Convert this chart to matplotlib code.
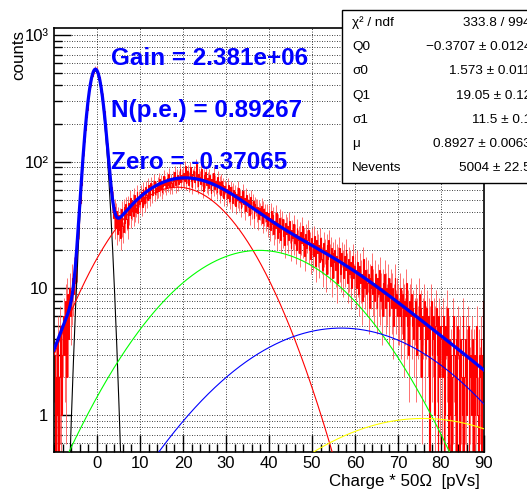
import math
import numpy as np
import matplotlib
matplotlib.use("Agg")
import matplotlib.pyplot as plt
from matplotlib.ticker import FixedLocator, LogLocator, MultipleLocator, NullFormatter
from matplotlib.patches import Rectangle

plt.rcParams['font.family'] = ['Liberation Sans', 'DejaVu Sans']

# histogram contents, 0.2 wide bins, one list per 10 units of charge
cnt_m10 = [3, 0, 2, 1, 4, 0, 2, 5, 1, 3, 4, 6, 3, 8, 2, 9, 4, 7, 10, 6, 8, 12, 9, 14, 11,
           18, 15, 27, 30, 45, 47, 66, 79, 104, 121, 156, 178, 226, 255, 311, 334, 389, 408, 462, 476,
           511, 515, 548, 530, 541]
cnt_0 = [521, 478, 470, 418, 402, 349, 330, 265, 251, 199, 181, 139, 128, 95, 88, 66, 63, 47, 51, 36,
         44, 30, 41, 27, 38, 29, 37, 25, 42, 31, 28, 44, 33, 46, 35, 30, 47, 38, 52, 36,
         41, 49, 37, 55, 40, 43, 58, 39, 51, 46]
cnt_10 = [49, 58, 44, 61, 53, 47, 63, 55, 50, 66, 57, 52, 68, 60, 55, 64, 71, 56, 62, 58,
          67, 59, 73, 61, 70, 58, 64, 77, 66, 69, 62, 74, 66, 80, 63, 71, 68, 63, 76, 70,
          83, 65, 72, 79, 67, 75, 88, 69, 78, 73]
cnt_20 = [81, 70, 92, 68, 77, 85, 66, 74, 90, 71, 63, 79, 84, 69, 75, 95, 72, 64, 80, 76,
          67, 88, 73, 59, 78, 70, 83, 65, 74, 62, 79, 68, 57, 73, 66, 82, 61, 70, 64, 58,
          75, 63, 69, 55, 71, 60, 66, 52, 64, 58]
cnt_30 = [61, 52, 66, 55, 49, 63, 57, 47, 60, 53, 58, 45, 56, 50, 62, 48, 54, 43, 51, 59,
          46, 52, 41, 55, 47, 44, 50, 38, 53, 45, 42, 49, 36, 46, 44, 40, 44, 35, 43, 41,
          38, 45, 33, 42, 37, 40, 34, 40, 31, 39]
cnt_40 = [36, 29, 41, 32, 38, 27, 34, 30, 39, 25, 33, 28, 36, 24, 31, 35, 26, 30, 22, 33,
          27, 31, 24, 34, 28, 21, 29, 25, 32, 23, 27, 20, 30, 24, 26, 19, 28, 23, 31, 22,
          25, 18, 27, 21, 24, 29, 20, 23, 17, 25]
cnt_50 = [23, 18, 26, 20, 15, 24, 19, 22, 16, 25, 21, 17, 14, 23, 19, 20, 13, 22, 17, 24,
          18, 15, 21, 12, 19, 16, 20, 14, 18, 11, 17, 21, 15, 13, 19, 16, 12, 18, 14, 20,
          15, 11, 17, 13, 16, 10, 14, 18, 12, 15]
cnt_60 = [14, 10, 16, 12, 9, 15, 11, 13, 8, 17, 12, 10, 14, 9, 11, 13, 7, 12, 10, 15,
          9, 11, 8, 13, 10, 7, 12, 9, 14, 8, 10, 6, 11, 9, 13, 7, 10, 8, 12, 6,
          9, 11, 7, 10, 5, 8, 12, 7, 9, 6]
cnt_70 = [8, 6, 10, 5, 7, 9, 4, 8, 6, 11, 5, 7, 3, 8, 6, 9, 5, 7, 4, 6,
          8, 3, 6, 5, 9, 4, 7, 2, 6, 5, 8, 3, 5, 7, 4, 6, 0, 5, 8, 3,
          4, 6, 1, 5, 7, 3, 0, 6, 2, 5]
cnt_80 = [4, 2, 6, 0, 1, 5, 3, 7, 0, 4, 1, 3, 0, 2, 6, 3, 1, 4, 0, 5,
          3, 0, 4, 2, 1, 6, 0, 2, 4, 1, 3, 5, 0, 2, 3, 1, 4, 0, 3, 1,
          2, 5, 1, 0, 3, 2, 4, 0, 3, 8]

# fit results (stats box)
q0, s0 = -0.3707, 1.573
q1, s1 = 19.05, 11.5
mu = 0.8927
nevents = 5004
stat_names = ["χ² / ndf", "Q0", "σ0", "Q1", "σ1", "μ", "Nevents"]
stat_values = ["333.8 / 994", "\u22120.3707 ± 0.0124", "1.573 ± 0.011", "19.05 ± 0.12",
               "11.5 ± 0.1", "0.8927 ± 0.0063", "5004 ± 22.5"]
info_lines = ["Gain = 2.381e+06", "N(p.e.) = 0.89267", "Zero = -0.37065"]

xticks = [0, 10, 20, 30, 40, 50, 60, 70, 80, 90]
yticks = [1, 10, 100, 1000]
ytick_labels = ["1", "10", "10²", "10³"]

W, H = 527, 491
fig = plt.figure(figsize=(W / 100, H / 100), dpi=100)
ax = fig.add_axes([54 / W, 1 - 452 / H, (484 - 54) / W, (452 - 28) / H])

counts = np.array(cnt_m10 + cnt_0 + cnt_10 + cnt_20 + cnt_30 + cnt_40 + cnt_50 +
                  cnt_60 + cnt_70 + cnt_80, dtype=float)
edges = np.linspace(-10, 90, len(counts) + 1)
centers = 0.5 * (edges[1:] + edges[:-1])

# error bars (lighter) then the histogram outline
ok = counts > 0
c = counts[ok]
err = np.sqrt(c)
low = c - np.maximum(c - err, 0.05)
ax.errorbar(centers[ok], c, yerr=[low, err], fmt='none', ecolor='#ff5a5a',
            elinewidth=0.6, zorder=2)
# empty bins drop below the log axis
shown = np.where(counts > 0, counts, 0.01)
ax.stairs(shown, edges, baseline=None, color='#ff0000', lw=0.8, zorder=2)

# fit function and its components
x = np.linspace(-10, 90, 2001)
comps = []
for n in range(6):
    p = math.exp(-mu) * mu ** n / math.factorial(n)
    sig = math.sqrt(s0 ** 2 + n * s1 ** 2)
    comps.append(nevents * p * np.exp(-0.5 * ((x - (q0 + n * q1)) / sig) ** 2) / (math.sqrt(2 * math.pi) * sig))
total = np.sum(comps, axis=0)

comp_colors = ['black', '#ff0000', '#00ff00', '#0000ff', '#ffff00']
for comp, col in zip(comps[:5], comp_colors):
    ax.plot(x, comp, color=col, lw=0.8, zorder=3)
ax.plot(x, total, color='#0000ff', lw=2.3, zorder=4)

ax.set_yscale('log')
ax.set_xlim(-10, 90)
ax.set_ylim(0.51, 1136)

ax.xaxis.set_major_locator(FixedLocator(xticks))
ax.xaxis.set_minor_locator(MultipleLocator(2))
ax.yaxis.set_major_locator(FixedLocator(yticks))
ax.set_yticklabels(ytick_labels)
ax.yaxis.set_minor_locator(LogLocator(subs=np.arange(2, 10)))
ax.yaxis.set_minor_formatter(NullFormatter())
ax.tick_params(which='both', direction='in', top=False, right=False, labelsize=12, width=1)
ax.tick_params(which='major', length=12)
ax.tick_params(which='minor', length=6)
ax.tick_params(axis='x', pad=3)
ax.tick_params(axis='y', pad=4)
for sp in ax.spines.values():
    sp.set_linewidth(1.2)

ax.grid(True, which='major', axis='x', color='black', ls=(0, (1, 2)), lw=0.6)
ax.grid(True, which='both', axis='y', color='black', ls=(0, (1, 2)), lw=0.6)
ax.set_axisbelow(True)

ax.set_xlabel("Charge * 50Ω  [pVs]", fontsize=12.2, ha='right', va='baseline')
ax.xaxis.set_label_coords((480 - 54) / 430, (452 - 486) / 424)
ax.set_ylabel("counts", fontsize=12.2, ha='right', va='center')
ax.yaxis.set_label_coords((19 - 54) / 430, (452 - 30) / 424)

for i, line in enumerate(info_lines):
    fig.text(111 / W, 1 - (65 + 52 * i) / H, line, color='#0000ff', fontsize=17.5,
             fontweight='bold', ha='left', va='baseline')

# stats box
fig.add_artist(Rectangle((342 / W, 1 - 183 / H), 200 / W, (183 - 10) / H,
                         transform=fig.transFigure, facecolor='white', edgecolor='black',
                         lw=1.0, zorder=5))
for i, (nm, val) in enumerate(zip(stat_names, stat_values)):
    y = 1 - (23 + 24.2 * i) / H
    fig.text(352 / W, y, nm, fontsize=9.7, ha='left', va='center', zorder=6)
    fig.text(531 / W, y, val, fontsize=9.7, ha='right', va='center', zorder=6)

fig.savefig("out.png", dpi=100)
